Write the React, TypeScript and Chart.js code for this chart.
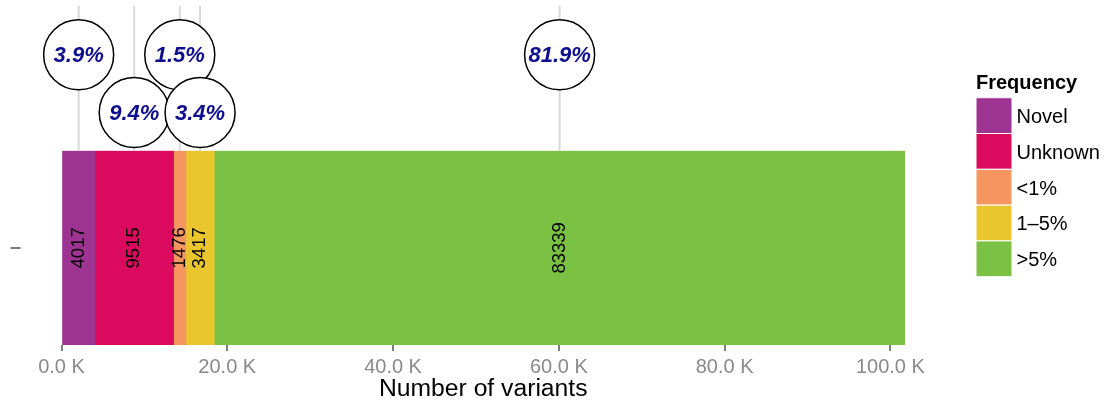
import React, { useEffect, useRef } from 'react';
import { Chart, registerables } from 'chart.js';

Chart.register(...registerables);

const categories = ['–'];
const seriesNames = ['Novel', 'Unknown', '<1%', '1–5%', '>5%'];
const seriesValues = [4017, 9515, 1476, 3417, 83339];
const seriesColors = ['#9D3492', '#DC0A5F', '#F5955F', '#E9C52E', '#7BC143'];
const xTickValues = [0, 20000, 40000, 60000, 80000, 100000];
const legendTitle = 'Frequency';
const axisTitle = 'Number of variants';

const FONT = '"Liberation Sans", Arial, Helvetica, sans-serif';
const total = seriesValues.reduce((a, b) => a + b, 0);

const annotatePlugin = {
  id: 'annotate',
  afterDatasetsDraw(chart: any) {
    const ctx = chart.ctx as CanvasRenderingContext2D;
    const area = chart.chartArea;
    const centers: { x: number; y: number }[] = [];
    chart.data.datasets.forEach((ds: any, i: number) => {
      const el = chart.getDatasetMeta(i).data[0];
      const cx = (el.x + el.base) / 2;
      centers.push({ x: cx, y: el.y });
      ctx.save();
      ctx.translate(cx, el.y);
      ctx.rotate(-Math.PI / 2);
      ctx.font = `18.5px ${FONT}`;
      ctx.fillStyle = '#000000';
      ctx.textAlign = 'center';
      ctx.textBaseline = 'middle';
      ctx.fillText(String(ds.data[0]), 0, 0);
      ctx.restore();
    });

    // guide lines
    ctx.save();
    ctx.strokeStyle = '#D9D9D9';
    ctx.lineWidth = 2;
    centers.forEach((c) => {
      ctx.beginPath();
      ctx.moveTo(c.x, 6);
      ctx.lineTo(c.x, area.top);
      ctx.stroke();
    });
    ctx.restore();

    // circles: upper row first, then lower row
    const order = [0, 2, 4, 1, 3];
    order.forEach((i) => {
      if (i >= centers.length) return;
      const c = centers[i];
      const cy = i % 2 === 0 ? area.top - 96 : area.top - 38.2;
      ctx.save();
      ctx.beginPath();
      ctx.arc(c.x, cy, 35, 0, Math.PI * 2);
      ctx.fillStyle = '#FFFFFF';
      ctx.fill();
      ctx.lineWidth = 1.5;
      ctx.strokeStyle = '#000000';
      ctx.stroke();
      const pct = ((chart.data.datasets[i].data[0] / total) * 100).toFixed(1) + '%';
      ctx.font = `italic bold 22px ${FONT}`;
      ctx.fillStyle = '#0E0E8E';
      ctx.textAlign = 'center';
      ctx.textBaseline = 'middle';
      ctx.fillText(pct, c.x, cy + 1);
      ctx.restore();
    });
  },
  afterDraw(chart: any) {
    const ctx = chart.ctx as CanvasRenderingContext2D;
    const x0 = chart.chartArea.right + 71;
    const top = 97.7;
    const h = 35.8;
    const w = 36;
    ctx.save();
    ctx.font = `bold 20px ${FONT}`;
    ctx.fillStyle = '#000000';
    ctx.textAlign = 'left';
    ctx.textBaseline = 'alphabetic';
    ctx.fillText(legendTitle, x0, 89.3);
    chart.data.datasets.forEach((ds: any, i: number) => {
      const y = top + i * h;
      ctx.fillStyle = ds.backgroundColor;
      ctx.fillRect(x0, y, w, h);
      ctx.strokeStyle = '#FFFFFF';
      ctx.lineWidth = 1;
      ctx.strokeRect(x0, y, w, h);
      ctx.font = `20px ${FONT}`;
      ctx.fillStyle = '#000000';
      ctx.fillText(ds.label, x0 + 40.5, y + h / 2 + 7.3);
    });
    ctx.restore();
  },
};

export default function App() {
  const canvasRef = useRef<HTMLCanvasElement>(null);

  useEffect(() => {
    if (!canvasRef.current) return;
    const chart = new Chart(canvasRef.current, {
      type: 'bar',
      data: {
        labels: categories,
        datasets: seriesNames.map((name, i) => ({
          label: name,
          data: [seriesValues[i]],
          backgroundColor: seriesColors[i],
          borderWidth: 0,
          barPercentage: 1,
          categoryPercentage: 1,
        })),
      },
      options: {
        indexAxis: 'y',
        animation: false,
        responsive: false,
        devicePixelRatio: 1,
        layout: { padding: { top: 150.7, left: 10, right: 206, bottom: 0 } },
        plugins: {
          legend: { display: false },
          tooltip: { enabled: false },
        },
        scales: {
          x: {
            type: 'linear',
            stacked: true,
            min: 0,
            max: total,
            afterBuildTicks: (scale: any) => {
              scale.ticks = xTickValues.map((value) => ({ value }));
            },
            afterFit: (scale: any) => {
              scale.height = 59;
            },
            grid: {
              drawOnChartArea: false,
              drawTicks: true,
              tickLength: 6,
              color: '#7F7F7F',
              lineWidth: 2,
            },
            border: { display: false },
            ticks: {
              color: '#8A8A8A',
              font: { family: FONT, size: 20 },
              padding: 4,
              maxRotation: 0,
              autoSkip: false,
              callback: (v: any) => (Number(v) / 1000).toFixed(1) + ' K',
            },
            title: {
              display: true,
              text: axisTitle,
              color: '#000000',
              font: { family: FONT, size: 24.7 },
              padding: { top: 0, bottom: 0 },
            },
          },
          y: {
            type: 'category',
            stacked: true,
            afterFit: (scale: any) => {
              scale.width = 51.5;
            },
            grid: { display: false, drawTicks: false },
            border: { display: false },
            ticks: {
              color: '#7A7A7A',
              font: { family: FONT, size: 20, weight: 'bold' },
              padding: 0,
              crossAlign: 'far',
            },
          },
        },
      },
      plugins: [annotatePlugin],
    } as any);
    return () => chart.destroy();
  }, []);

  return (
    <div style={{ position: 'fixed', left: 0, top: 0, width: 1111, height: 404, background: '#FFFFFF' }}>
      <canvas ref={canvasRef} width={1111} height={404} style={{ display: 'block' }} />
    </div>
  );
}
